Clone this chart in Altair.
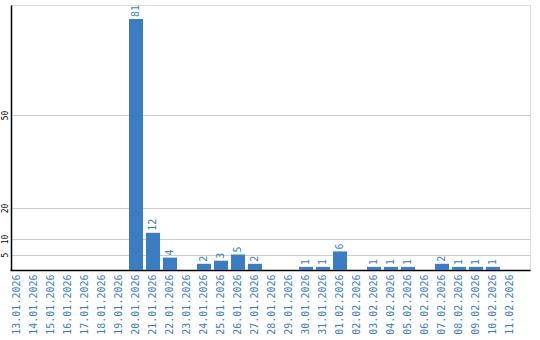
import altair as alt
import pandas as pd

dates = ["13.01.2026", "14.01.2026", "15.01.2026", "16.01.2026", "17.01.2026",
         "18.01.2026", "19.01.2026", "20.01.2026", "21.01.2026", "22.01.2026",
         "23.01.2026", "24.01.2026", "25.01.2026", "26.01.2026", "27.01.2026",
         "28.01.2026", "29.01.2026", "30.01.2026", "31.01.2026", "01.02.2026",
         "02.02.2026", "03.02.2026", "04.02.2026", "05.02.2026", "06.02.2026",
         "07.02.2026", "08.02.2026", "09.02.2026", "10.02.2026", "11.02.2026"]
counts = [0, 0, 0, 0, 0, 0, 0, 81, 12, 4,
          0, 2, 3, 5, 2, 0, 0, 1, 1, 6,
          0, 1, 1, 1, 0, 2, 1, 1, 1, 0]
y_ticks = [5, 10, 20, 50]

df = pd.DataFrame({"date": dates, "count": counts})

BLUE = "#3a7dc4"
FONT = "DejaVu Sans Mono"

x = alt.X("date:N", sort=dates, title=None,
          scale=alt.Scale(range=[-1, 519], paddingInner=3 / 17,
                          paddingOuter=0.382, align=0),
          axis=alt.Axis(labelAngle=-90, labelColor=BLUE, labelFont=FONT, labelFontSize=10,
                        ticks=False, domainColor="#000000", domainWidth=1.5,
                        labelPadding=4, grid=False))
y = alt.Y("count:Q", title=None,
          scale=alt.Scale(domain=[0, 85.5], nice=False, zero=True),
          axis=alt.Axis(values=y_ticks, labelAngle=-90, labelAlign="center",
                        labelBaseline="bottom", labelFont=FONT, labelFontSize=8,
                        labelColor="#000000", ticks=False, domainColor="#000000",
                        domainWidth=1.5, labelPadding=2, gridColor="#cccccc"))

bars = alt.Chart(df).mark_bar(color=BLUE).encode(x=x, y=y)
labels = alt.Chart(df).transform_filter("datum.count > 0").mark_text(
    angle=270, align="left", baseline="middle", dx=2, color=BLUE, font=FONT, fontSize=10
).encode(x=alt.X("date:N", sort=dates), y="count:Q", text="count:Q")

chart = (bars + labels).properties(
    width=519, height=265,
    autosize=alt.AutoSizeParams(type="none"),
    padding={"left": 11, "top": 5, "right": 10, "bottom": 70},
).configure_view(stroke=None).configure(background="#ffffff")

chart.save("out.html", embed_options={"renderer": "svg", "actions": False})
